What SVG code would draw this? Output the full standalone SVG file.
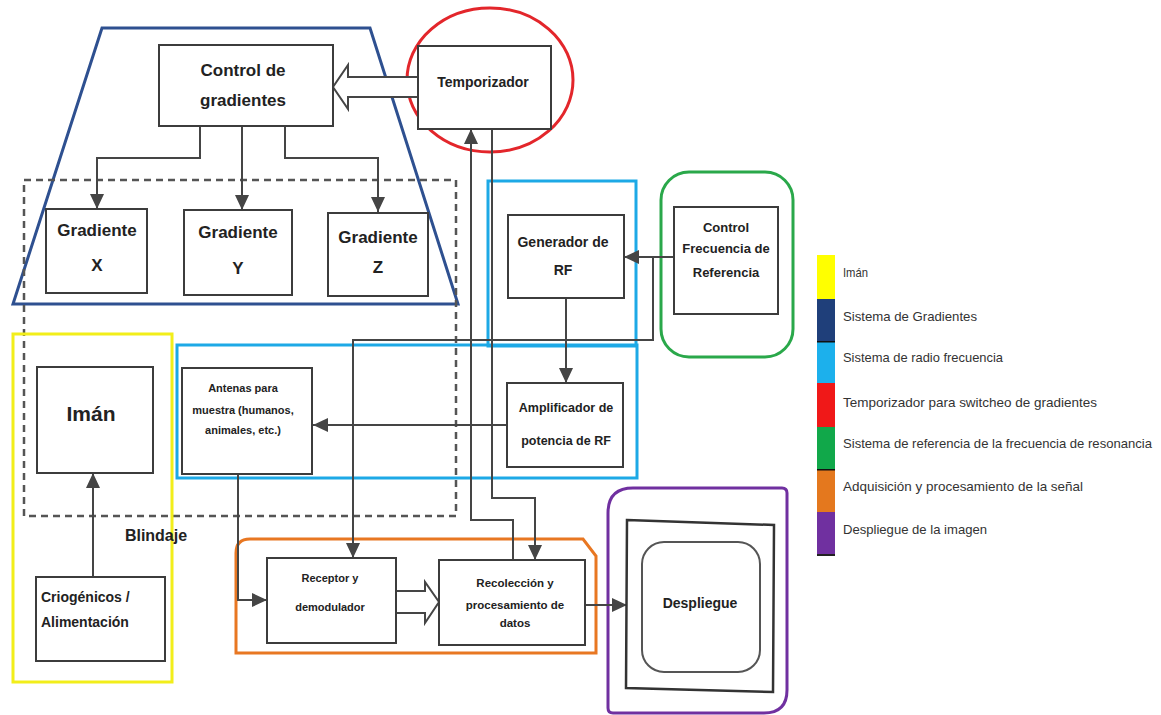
<svg xmlns="http://www.w3.org/2000/svg" width="1161" height="715" viewBox="0 0 1161 715">
<style>
.box{fill:#fff;stroke:#3c3c3c;stroke-width:2}
.t{font-family:"Liberation Sans",Arial,sans-serif;font-weight:bold;fill:#222;text-anchor:middle}
.ts{font-family:"Liberation Sans",Arial,sans-serif;font-weight:bold;fill:#222;text-anchor:start}
.conn{fill:none;stroke:#454545;stroke-width:2}
.arr{stroke:#454545;stroke-width:2;fill:none;marker-end:url(#ah)}
.hollow{fill:#fff;stroke:#454545;stroke-width:2;stroke-linejoin:miter}
.frame{fill:none;stroke-width:3}
.leg{font-family:"Liberation Sans",Arial,sans-serif;font-size:13px;fill:#333}
</style>
<defs>
<marker id="ah" viewBox="0 0 15 14" refX="15" refY="7" markerWidth="15" markerHeight="14" markerUnits="userSpaceOnUse" orient="auto">
<path d="M0,0 L15,7 L0,14 Z" fill="#454545"/>
</marker>
</defs>
<rect width="1161" height="715" fill="#fff"/>

<g id="frames">
<polygon class="frame" points="102,28 370,28 458,304 13,304" stroke="#2E5090"/>
<rect x="24" y="180" width="432" height="336" fill="none" stroke="#555" stroke-width="2.5" stroke-dasharray="7 5"/>
<rect class="frame" x="13" y="334" width="159" height="348" stroke="#F2EE1A"/>
<rect class="frame" x="488" y="181" width="148" height="165" stroke="#1DA9E6"/>
<rect class="frame" x="177" y="345" width="460" height="133" stroke="#1DA9E6"/>
<rect class="frame" x="661" y="172" width="132" height="185" rx="28" stroke="#2AA84A"/>
<ellipse class="frame" cx="490" cy="80" rx="83" ry="72" stroke="#E3262B"/>
<path class="frame" d="M236,553 Q236,539 250,539 H583 L596,556 V653 H236 Z" stroke="#E87722"/>
<path class="frame" d="M608,513 Q608,488 633,488 H782 Q787,488 787,493 V690 Q787,713 764,713 H613 Q608,713 608,708 Z" stroke="#7030A0"/>
<text class="t" x="156" y="541" font-size="16">Blindaje</text>
</g>

<g id="connectors">
<path class="hollow" d="M418,77 H348 V65 L333,87 L348,109 V97 H418"/>
<path class="arr" d="M200,126 V158 H97 V209"/>
<path class="arr" d="M242,126 V210"/>
<path class="arr" d="M285,126 V158 H378 V212"/>
<path class="arr" d="M93,577 V473"/>
<path class="arr" d="M513,560 V520 H471 V129"/>
<path class="arr" d="M492,129 V498 H535 V560"/>
<path class="arr" d="M674,257 H624"/>
<path class="arr" d="M653,257 V340 H353 V558"/>
<path class="arr" d="M566,298 V383"/>
<path class="arr" d="M507,425 H313"/>
<path class="arr" d="M238,474 V600 H267"/>
<path class="hollow" d="M396,591 H425 V582 L439,602 L425,623 V613 H396"/>
<path class="arr" d="M585,605 H627"/>
</g>

<g id="control-gradientes">
<rect class="box" x="159" y="45" width="174" height="81"/>
<text class="t" x="243" y="76" font-size="17">Control de</text>
<text class="t" x="243" y="106" font-size="17">gradientes</text>
</g>
<g id="gradiente-x">
<rect class="box" x="46" y="209" width="101" height="84"/>
<text class="t" x="97" y="236" font-size="17">Gradiente</text>
<text class="t" x="97" y="271" font-size="17">X</text>
</g>
<g id="gradiente-y">
<rect class="box" x="184" y="210" width="108" height="85"/>
<text class="t" x="238" y="238" font-size="17">Gradiente</text>
<text class="t" x="238" y="274" font-size="17">Y</text>
</g>
<g id="gradiente-z">
<rect class="box" x="328" y="213" width="100" height="83"/>
<text class="t" x="378" y="243" font-size="17">Gradiente</text>
<text class="t" x="378" y="273" font-size="17">Z</text>
</g>
<g id="temporizador">
<rect class="box" x="418" y="46" width="133" height="83"/>
<text class="t" x="483" y="87" font-size="14">Temporizador</text>
</g>
<g id="generador-rf">
<rect class="box" x="508" y="215" width="116" height="83"/>
<text class="t" x="563" y="247" font-size="14">Generador de</text>
<text class="t" x="563" y="275" font-size="14">RF</text>
</g>
<g id="control-frecuencia">
<rect class="box" x="674" y="207" width="104" height="107"/>
<text class="t" x="726" y="232" font-size="13">Control</text>
<text class="t" x="726" y="253" font-size="13">Frecuencia de</text>
<text class="t" x="726" y="277" font-size="13">Referencia</text>
</g>
<g id="amplificador">
<rect class="box" x="507" y="383" width="116" height="84"/>
<text class="t" x="566" y="412" font-size="12.5">Amplificador de</text>
<text class="t" x="566" y="445" font-size="12.5">potencia de RF</text>
</g>
<g id="antenas">
<rect class="box" x="182" y="368" width="130" height="106"/>
<text class="t" x="243" y="392" font-size="11">Antenas para</text>
<text class="t" x="243" y="414" font-size="11">muestra (humanos,</text>
<text class="t" x="243" y="434" font-size="11">animales, etc.)</text>
</g>
<g id="iman">
<rect class="box" x="37" y="367" width="116" height="106"/>
<text class="t" x="91" y="421" font-size="21">Imán</text>
</g>
<g id="criogenicos">
<rect class="box" x="36" y="577" width="129" height="84"/>
<text class="ts" x="41" y="602" font-size="14">Criogénicos /</text>
<text class="ts" x="41" y="627" font-size="14">Alimentación</text>
</g>
<g id="receptor">
<rect class="box" x="267" y="558" width="129" height="85"/>
<text class="t" x="330" y="582" font-size="11">Receptor y</text>
<text class="t" x="330" y="611" font-size="11">demodulador</text>
</g>
<g id="recoleccion">
<rect class="box" x="439" y="560" width="146" height="85"/>
<text class="t" x="515" y="587" font-size="11.5">Recolección y</text>
<text class="t" x="515" y="609" font-size="11.5">procesamiento de</text>
<text class="t" x="515" y="627" font-size="11.5">datos</text>
</g>
<g id="despliegue">
<polygon points="627,520 774,525 773,692 626,688" fill="#fff" stroke="#333" stroke-width="2.5"/>
<rect x="642" y="542" width="118" height="130" rx="22" fill="#fff" stroke="#555" stroke-width="2"/>
<text class="t" x="700" y="608" font-size="14">Despliegue</text>
</g>

<g id="legend">
<rect x="817" y="255" width="18" height="44" fill="#FFFF00"/>
<rect x="817" y="299" width="18" height="43" fill="#1F3F7A"/>
<rect x="817" y="342" width="18" height="41" fill="#1CB0EC"/>
<rect x="817" y="383" width="18" height="44" fill="#F01818"/>
<rect x="817" y="427" width="18" height="43" fill="#11A84A"/>
<rect x="817" y="470" width="18" height="42" fill="#E4781E"/>
<rect x="817" y="512" width="18" height="44" fill="#7030A0"/>
<rect x="817" y="341" width="18" height="1.5" fill="#111"/>
<rect x="817" y="469" width="18" height="1.5" fill="#111"/>
<rect x="817" y="554" width="18" height="2" fill="#222"/>
<text class="leg" x="843" y="277" textLength="25" lengthAdjust="spacingAndGlyphs">Imán</text>
<text class="leg" x="843" y="321" textLength="134" lengthAdjust="spacingAndGlyphs">Sistema de Gradientes</text>
<text class="leg" x="843" y="362" textLength="160" lengthAdjust="spacingAndGlyphs">Sistema de radio frecuencia</text>
<text class="leg" x="843" y="407" textLength="254" lengthAdjust="spacingAndGlyphs">Temporizador para switcheo de gradientes</text>
<text class="leg" x="843" y="448" textLength="309" lengthAdjust="spacingAndGlyphs">Sistema de referencia de la frecuencia de resonancia</text>
<text class="leg" x="843" y="491" textLength="240" lengthAdjust="spacingAndGlyphs">Adquisición y procesamiento de la señal</text>
<text class="leg" x="843" y="534" textLength="144" lengthAdjust="spacingAndGlyphs">Despliegue de la imagen</text>
</g>
</svg>
